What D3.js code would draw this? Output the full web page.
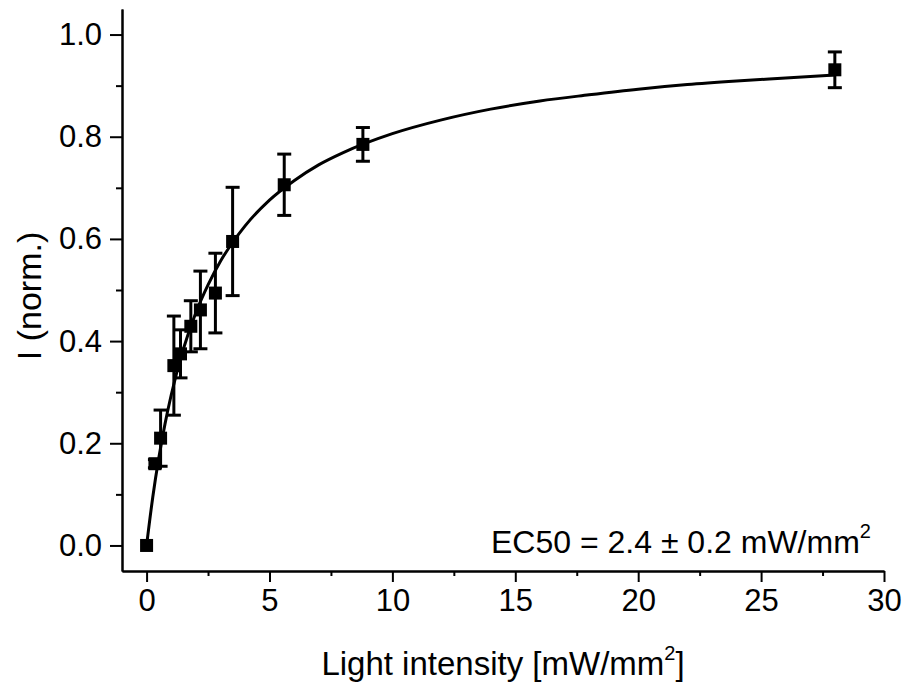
<!DOCTYPE html>
<html>
<head>
<meta charset="utf-8">
<script src="https://cdn.jsdelivr.net/npm/d3@7"></script>
<style>
    body { margin: 0; background: #fff; }
    text { font-family: "Liberation Sans", Arial, sans-serif; fill: #000; }
</style>
</head>
<body>
<div id="draw_here"></div>
<script>
    // measured points (x = light intensity, y = normalised current, err = half error bar)
    intensity = [0, 0.34, 0.57, 1.11, 1.38, 1.80, 2.19, 2.80, 3.50, 5.60, 8.80, 28.0]
    current = [0, 0.160, 0.210, 0.352, 0.375, 0.429, 0.461, 0.494, 0.595, 0.706, 0.785, 0.931]
    err = [0, 0.008, 0.055, 0.097, 0.047, 0.050, 0.076, 0.078, 0.106, 0.060, 0.033, 0.035]

    // fitted curve
    fit_x = [0, 0.25, 0.5, 0.75, 1, 1.5, 2, 2.5, 3, 3.5, 4, 5, 6, 7, 8, 10, 12, 14, 16, 18, 20, 22, 24, 26, 28]
    fit_y = [0, 0.094, 0.172, 0.238, 0.294, 0.385, 0.455, 0.510, 0.556, 0.593, 0.625, 0.676, 0.714, 0.745, 0.769,
             0.806, 0.833, 0.854, 0.870, 0.882, 0.893, 0.902, 0.909, 0.915, 0.921]

    x_ticks = [0, 5, 10, 15, 20, 25, 30]
    x_minor = [2.5, 7.5, 12.5, 17.5, 22.5, 27.5]
    y_ticks = [0.0, 0.2, 0.4, 0.6, 0.8, 1.0]
    y_minor = [0.1, 0.3, 0.5, 0.7, 0.9]

    canvas = ({width: 907, height: 685})
    margin = ({top: 9, right: 23, bottom: 114, left: 122})

    x = d3.scaleLinear()
        .domain([-1, 30])
        .range([margin.left, canvas.width - margin.right])

    y = d3.scaleLinear()
        .domain([-0.05, 1.05])
        .range([canvas.height - margin.bottom, margin.top])

    svg = d3.select("#draw_here").append("svg")
        .attr("width", canvas.width)
        .attr("height", canvas.height)
        .attr("viewBox", [0, 0, canvas.width, canvas.height])

    // axes
    xAxis = g => g
        .attr("transform", `translate(0,${canvas.height - margin.bottom})`)
        .call(d3.axisBottom(x).tickValues(x_ticks).tickSize(11).tickPadding(7).tickSizeOuter(0))
    xMinor = g => g
        .attr("transform", `translate(0,${canvas.height - margin.bottom})`)
        .call(d3.axisBottom(x).tickValues(x_minor).tickSize(5).tickFormat("").tickSizeOuter(0))
    yAxis = g => g
        .attr("transform", `translate(${margin.left},0)`)
        .call(d3.axisLeft(y).tickValues(y_ticks).tickSize(12).tickPadding(8).tickFormat(d3.format(".1f")).tickSizeOuter(0))
    yMinor = g => g
        .attr("transform", `translate(${margin.left},0)`)
        .call(d3.axisLeft(y).tickValues(y_minor).tickSize(6).tickFormat("").tickSizeOuter(0))

    svg.append("g").call(xMinor)
    svg.append("g").call(yMinor)
    gx = svg.append("g").call(xAxis)
    gy = svg.append("g").call(yAxis)

    svg.selectAll(".domain, .tick line")
        .attr("stroke", "#000")
        .attr("stroke-width", 2)
    svg.selectAll(".tick text")
        .attr("font-size", 31)
        .attr("font-family", "Liberation Sans, Arial, sans-serif")

    // fitted curve
    line = d3.line()
        .x(d => x(d[0]))
        .y(d => y(d[1]))
        .curve(d3.curveMonotoneX)

    svg.append("path")
        .attr("fill", "none")
        .attr("stroke", "#000")
        .attr("stroke-width", 3)
        .attr("stroke-linejoin", "round")
        .attr("d", line(d3.zip(fit_x, fit_y)))

    points = d3.zip(intensity, current, err)

    // error bars
    bars = svg.append("g")
        .attr("stroke", "#000")
        .attr("stroke-width", 3)
    points.forEach(p => {
        if (p[2] <= 0) return
        bars.append("line")
            .attr("x1", x(p[0])).attr("x2", x(p[0]))
            .attr("y1", y(p[1] - p[2])).attr("y2", y(p[1] + p[2]))
        for (v of [p[1] - p[2], p[1] + p[2]]) {
            bars.append("line")
                .attr("x1", x(p[0]) - 7).attr("x2", x(p[0]) + 7)
                .attr("y1", y(v)).attr("y2", y(v))
        }
    })

    // markers
    svg.append("g").selectAll("rect")
        .data(points)
        .join("rect")
        .attr("x", d => x(d[0]) - 6.5)
        .attr("y", d => y(d[1]) - 6.5)
        .attr("width", 13)
        .attr("height", 13)
        .attr("fill", "#000")

    // axis titles
    xt = svg.append("text")
        .attr("x", 503)
        .attr("y", 675)
        .attr("text-anchor", "middle")
        .attr("font-size", 33)
    xt.append("tspan").text("Light intensity [mW/mm")
    xt.append("tspan").attr("font-size", 20).attr("dy", -15).text("2")
    xt.append("tspan").attr("dy", 15).text("]")

    svg.append("text")
        .attr("transform", "translate(41,296) rotate(-90)")
        .attr("text-anchor", "middle")
        .attr("font-size", 34)
        .text("I (norm.)")

    ec = svg.append("text")
        .attr("x", 491)
        .attr("y", 553)
        .attr("font-size", 32)
    ec.append("tspan").text("EC50 = 2.4 \u00b1 0.2 mW/mm")
    ec.append("tspan").attr("font-size", 20).attr("dy", -15).text("2")
</script>
</body>
</html>
